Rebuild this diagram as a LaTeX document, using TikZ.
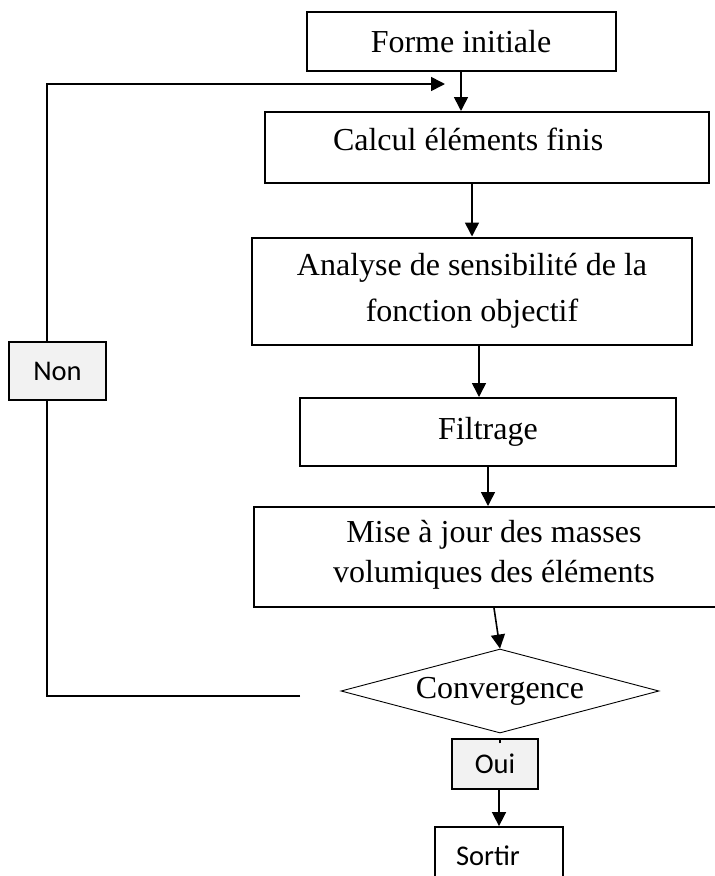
\documentclass[tikz,border=0pt]{standalone}
\usepackage{fontspec}
\setmainfont{Liberation Serif}
\newfontfamily\carlito{Carlito}
\usepackage{tikz}
\usetikzlibrary{arrows.meta,shapes.geometric}

\begin{document}
\begin{tikzpicture}[x=1pt,y=-1pt,
			etape/.style={draw=black,line width=2pt,font=\fontsize{32}{43}\selectfont,align=center,inner sep=0pt},
			choix/.style={draw=black,line width=1.8pt,fill=black!5,font=\carlito\fontsize{28.5}{34}\selectfont,inner sep=0pt},
			test/.style={diamond,aspect=3.8,draw=black,line width=0.9pt,inner sep=0pt,font=\fontsize{32}{43}\selectfont},
			fleche/.style={-{Triangle[length=14pt,width=14pt]},draw=black,line width=1.6pt},
			trait/.style={draw=black,line width=1.6pt}]
			\useasboundingbox (0,0) rectangle (715,876);
			%% etapes
			\node[etape,minimum width=309,minimum height=59] (forme) at (461,41.5) {Forme initiale};
			\node[etape,minimum height=71,text width=308pt,inner xsep=68pt,align=flush left,text height=21pt,text depth=15pt] (calcul) at (487,147.5) {Calcul éléments finis};
			\node[etape,font=\fontsize{32}{46}\selectfont,minimum width=440,minimum height=107] (analyse) at (472,291) {Analyse de sensibilité de la\\fonction objectif};
			\node[etape,minimum width=376,minimum height=68] (filtrage) at (488,432) {Filtrage};
			\node[etape,font=\fontsize{32}{40}\selectfont,minimum width=480,minimum height=100,text depth=12pt] (mise) at (494,557) {Mise à jour des masses\\volumiques des éléments};
			\node[test,minimum width=318,minimum height=84] (conv) at (500,691) {Convergence};
			%% reponses
			\node[choix,minimum width=97,minimum height=58] (non) at (57.5,371) {Non};
			\node[choix,minimum width=86,minimum height=50] (oui) at (495,764) {Oui};
			\node[choix,fill=white,minimum height=58,text width=86pt,inner xsep=21pt,align=flush left] (sortir) at (499,856) {Sortir};
			%% fleches
			\draw[fleche] (forme.south) -- (forme.south |- calcul.north);
			\draw[fleche] (analyse.north |- calcul.south) -- (analyse.north);
			\draw[fleche] ([xshift=7pt]analyse.south) -- ([xshift=-9pt]filtrage.north);
			\draw[fleche] (filtrage.south) -- (filtrage.south |- mise.north);
			\draw[fleche] (mise.south) -- (conv.north);
			\draw[trait,line width=1.2pt] ([yshift=-10pt]conv.south) -- (conv.south |- oui.north);
			\draw[fleche] (sortir.north |- oui.south) -- (sortir.north);
			%% boucle
			\coordinate (depart) at (300,696);
			\coordinate (entree) at (445,84);
			\draw[trait] (depart) -| ([xshift=-10.5pt]non.south);
			\draw[fleche] ([xshift=-10.5pt]non.north) |- (entree);
		\end{tikzpicture}
\end{document}
